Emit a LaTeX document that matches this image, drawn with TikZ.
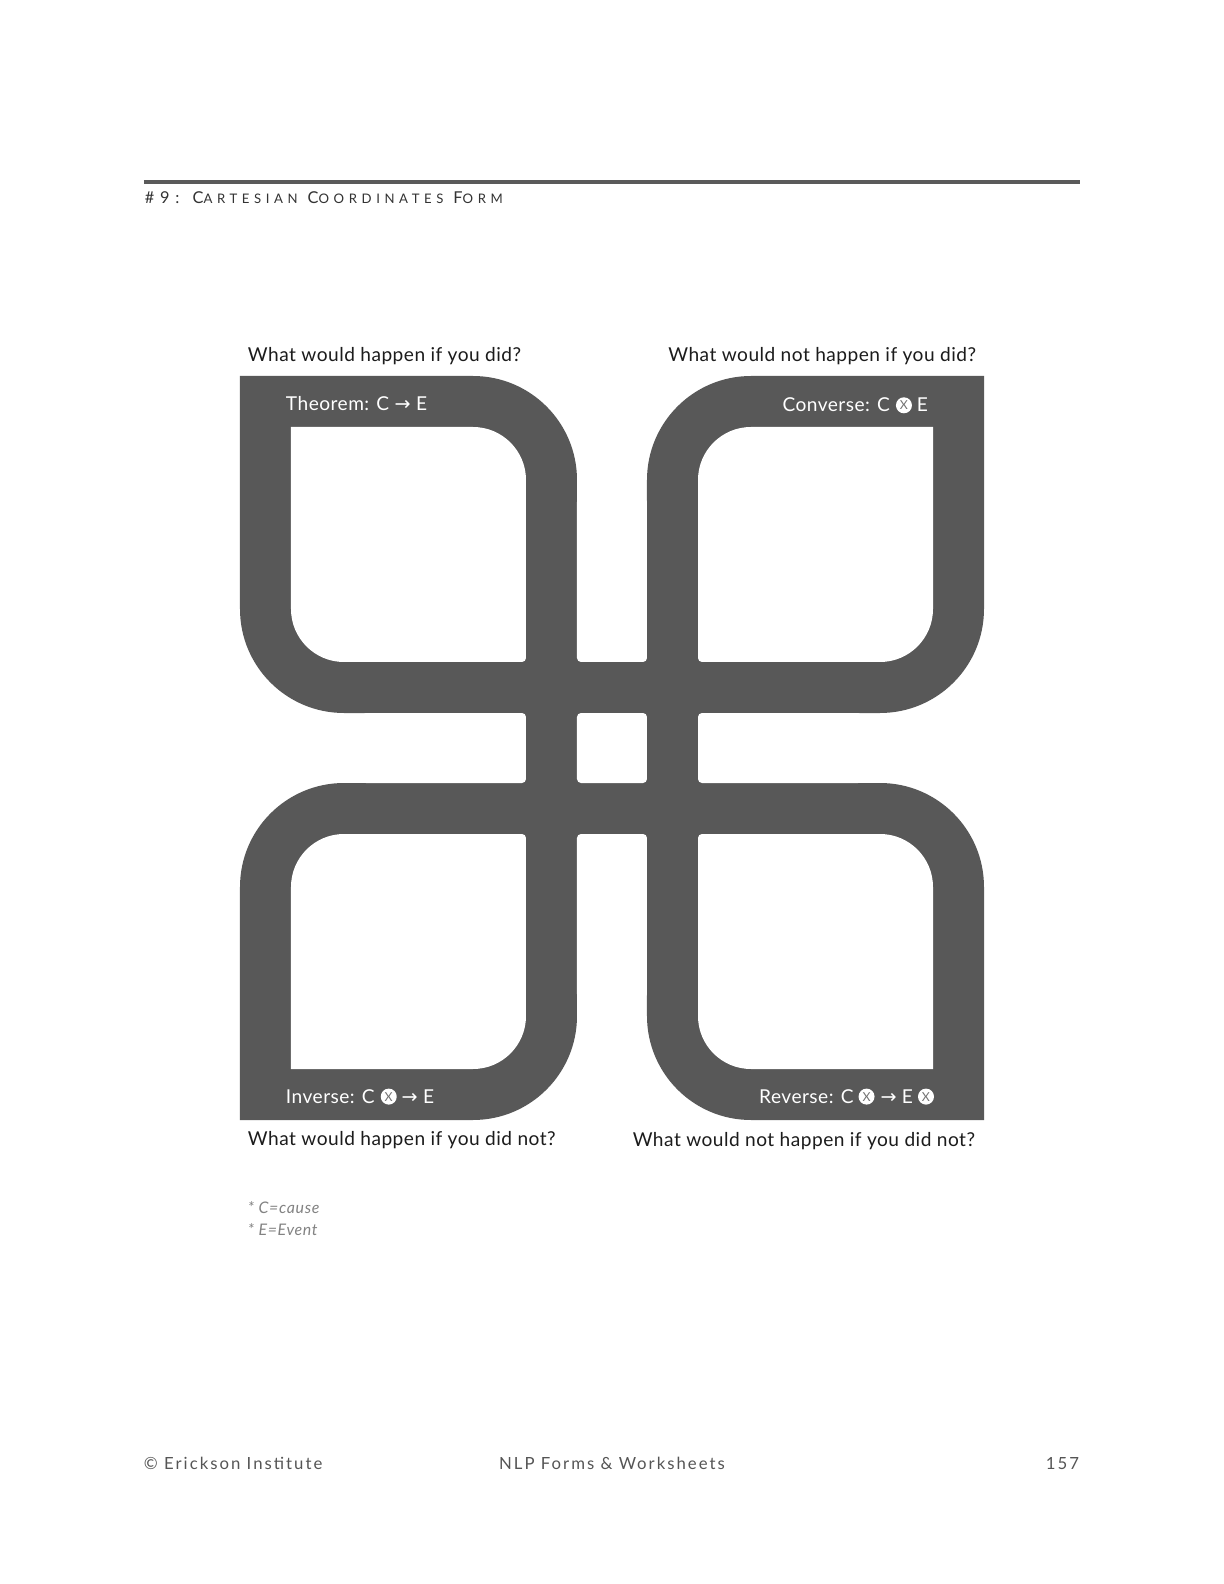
\documentclass[tikz,border=0pt]{standalone}
\usepackage{fontspec}
\setmainfont{Lato}
\newfontfamily\hdrfont[LetterSpace=35]{Lato}
\newfontfamily\footfont[LetterSpace=12]{Lato}
\newfontfamily\lblfont[LetterSpace=2.5]{Lato}
\newfontfamily\notefont[LetterSpace=4]{Lato}
\newfontfamily\arrfont{DejaVu Sans}
\usetikzlibrary{calc}
\definecolor{leafgray}{RGB}{88,88,88}
\definecolor{rulegray}{RGB}{90,90,90}
\definecolor{qtext}{RGB}{28,28,28}
\definecolor{foottext}{RGB}{85,85,85}
\definecolor{notetext}{RGB}{130,130,130}
\newcommand\LeafOuter{(-372,372) -- (-139,372) arc[start angle=90,end angle=0,radius=104] -- (-35,35) -- (-268,35) arc[start angle=270,end angle=180,radius=104] -- cycle}
\newcommand\LeafHole{(-321,321) -- (-139,321) arc[start angle=90,end angle=0,radius=53] -- (-86,90) arc[start angle=0,end angle=-90,radius=4] -- (-268,86) arc[start angle=270,end angle=180,radius=53] -- cycle}
\tikzset{
  qlbl/.style={inner sep=0pt, outer sep=0pt, text=qtext, font=\lblfont\fontsize{9.6}{11}\selectfont},
  wlbl/.style={inner sep=0pt, outer sep=0pt, text=white, font=\lblfont\fontsize{9.6}{11}\selectfont},
  cx/.style={circle, fill=white, minimum size=8bp, inner sep=0pt, outer sep=0pt, text=leafgray!85, font=\fontsize{6.2}{6}\selectfont},
  notelbl/.style={inner sep=0pt, outer sep=0pt, text=notetext, font=\notefont\fontsize{8}{9}\selectfont\itshape},
  footlbl/.style={inner sep=0pt, outer sep=0pt, text=foottext, font=\footfont\fontsize{8.4}{10}\selectfont},
}
\begin{document}
\begin{tikzpicture}[x=0.5bp, y=0.5bp]
\useasboundingbox (-612,-836) rectangle (612,748);
\fill[white] (-612,-836) rectangle (612,748);
% header
\draw[rulegray, line width=2bp] (-468,566) -- (468,566);
\node[inner sep=0pt, outer sep=0pt, anchor=base west, text=black!80, font=\hdrfont] (hdr) at (-467,544.7)
  {\fontsize{8.2}{9}\selectfont \#9: C{\fontsize{6.6}{7}\selectfont ARTESIAN} C{\fontsize{6.6}{7}\selectfont OORDINATES} F{\fontsize{6.6}{7}\selectfont ORM}};
% gray shape
\foreach \sx/\sy in {1/1,-1/1,1/-1,-1/-1}{
  \fill[leafgray, xscale=\sx, yscale=\sy] \LeafOuter;
}
\fill[leafgray] (-130,-130) rectangle (130,130);
\foreach \sx/\sy in {1/1,-1/1,1/-1,-1/-1}{
  \fill[white, xscale=\sx, yscale=\sy] \LeafHole;
}
\fill[white, rounded corners=2bp] (-35,-35) rectangle (35,35);
\fill[white, rounded corners=2bp] (-35,86) rectangle (35,250);
\fill[white, rounded corners=2bp] (-35,-86) rectangle (35,-250);
\fill[white, rounded corners=2bp] (-86,-35) rectangle (-250,35);
\fill[white, rounded corners=2bp] (86,-35) rectangle (250,35);
% questions
\node[qlbl, anchor=base west] (q1) at (-364,386.3) {What would happen if you did?};
\node[qlbl, anchor=base east] (q2) at (364,386.3) {What would not happen if you did?};
\node[qlbl, anchor=base west] (q3) at (-364,-397) {What would happen if you did not?};
\node[qlbl, anchor=base east] (q4) at (363,-398) {What would not happen if you did not?};
% theorem
\node[wlbl, anchor=base west] (th) at (-326,337) {Theorem: C {\arrfont →} E};
% converse
\node[wlbl, anchor=base east] (cvE) at (316,336) {E};
\node[cx] (cvX) at ($(cvE.base west)+(-13,6.7)$) {X};
\node[wlbl, anchor=base east] (cvA) at ($(cvX.center)+(-14,-6.7)$) {Converse: C};
% inverse
\node[wlbl, anchor=base west] (ivA) at (-326,-355.3) {Inverse: C};
\node[cx] (ivX) at ($(ivA.base east)+(14,6.7)$) {X};
\node[wlbl, anchor=base west] (ivB) at ($(ivX.center)+(13,-6.7)$) {{\arrfont →} E};
% reverse
\node[cx] (rvX2) at (314,-348.6) {X};
\node[wlbl, anchor=base east] (rvB) at ($(rvX2.center)+(-13,-6.7)$) {{\arrfont →} E};
\node[cx] (rvX1) at ($(rvB.base west)+(-14,6.7)$) {X};
\node[wlbl, anchor=base east] (rvA) at ($(rvX1.center)+(-13,-6.7)$) {Reverse: C};
% notes
\node[notelbl, anchor=base west] (n1) at (-364,-465.3) {* C=cause};
\node[notelbl, anchor=base west] (n2) at (-364,-487.7) {* E=Event};
% footer
\node[footlbl, anchor=base west] (f1) at (-468,-721) {© Erickson Institute};
\node[footlbl, anchor=base] (f2) at (0,-721) {NLP Forms \& Worksheets};
\node[footlbl, anchor=base east] (f3) at (467,-721) {157};
\end{tikzpicture}
\end{document}
